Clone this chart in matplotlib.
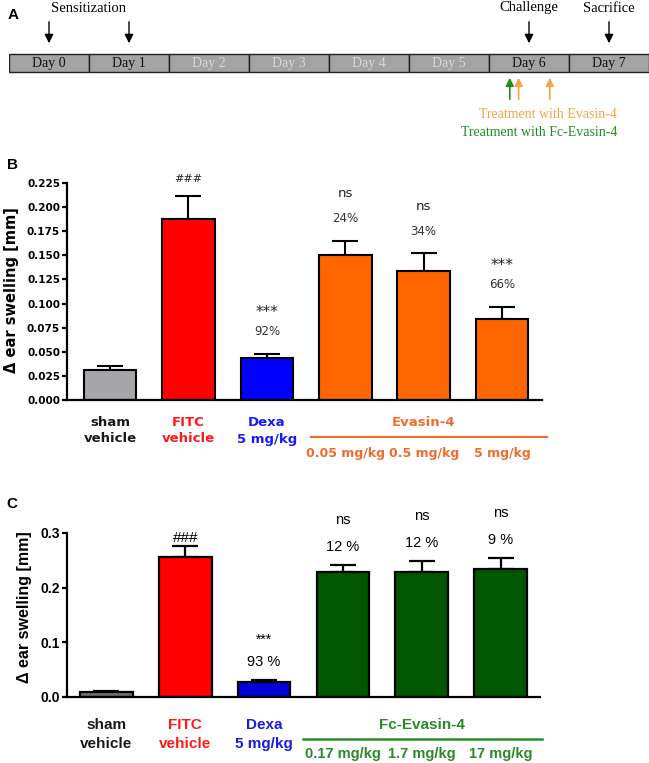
import matplotlib
matplotlib.use("Agg")
import matplotlib.pyplot as plt
from matplotlib.patches import Rectangle

# ---- data ----
days = [0, 1, 2, 3, 4, 5, 6, 7]
active_days = [0, 1, 6, 7]           # darker text in the timeline
sensitization_days = [0, 1]
challenge_day = 6
sacrifice_day = 7
evasin_times = [6.37, 6.76]          # treatment time points (in days)
fc_evasin_times = [6.26]

b_line1 = ['sham', 'FITC', 'Dexa']
b_line2 = ['vehicle', 'vehicle', '5 mg/kg']
b_means = [0.031, 0.188, 0.0436, 0.150, 0.134, 0.084]
b_err = [0.0043, 0.024, 0.0044, 0.015, 0.018, 0.0125]
b_sig = ['', '###', '***', 'ns', 'ns', '***']
b_pct = ['', '', '92%', '24%', '34%', '66%']
b_doses = ['0.05 mg/kg', '0.5 mg/kg', '5 mg/kg']
b_ticks = [0.0, 0.025, 0.05, 0.075, 0.1, 0.125, 0.15, 0.175, 0.2, 0.225]

c_line1 = ['sham', 'FITC', 'Dexa']
c_line2 = ['vehicle', 'vehicle', '5 mg/kg']
c_means = [0.009, 0.256, 0.027, 0.229, 0.229, 0.234]
c_err = [0.002, 0.020, 0.004, 0.0125, 0.020, 0.020]
c_sig = ['', '###', '***', 'ns', 'ns', 'ns']
c_pct = ['', '', '93 %', '12 %', '12 %', '9 %']
c_doses = ['0.17 mg/kg', '1.7 mg/kg', '17 mg/kg']
c_ticks = [0.0, 0.1, 0.2, 0.3]

W, H = 649, 763
fig = plt.figure(figsize=(W / 100, H / 100), dpi=100)


def box(l, t, r, b):
    # pixel box -> figure fraction
    return [l / W, 1 - b / H, (r - l) / W, (b - t) / H]


# ---- panel A: timeline ----
axa = fig.add_axes(box(9, 0, 649, 150))
axa.set_xlim(0, 8)
axa.set_ylim(150, 0)
axa.axis('off')
serif = 'Liberation Serif'
for d in days:
    axa.add_patch(Rectangle((d, 54), 1, 18, facecolor='#a3a3a3',
                            edgecolor='#222222', lw=1))
    col = '#111111' if d in active_days else '#d8d8d8'
    axa.text(d + 0.5, 63.5, f'Day {d}', ha='center', va='center',
             fontsize=10, family=serif, color=col)

down = dict(arrowstyle='-|>', color='black', lw=1, mutation_scale=13)
for d in sensitization_days + [challenge_day, sacrifice_day]:
    axa.annotate('', xy=(d + 0.5, 46), xytext=(d + 0.5, 19), arrowprops=down)
axa.text(sum(sensitization_days) / 2 + 0.5, 8, 'Sensitization', ha='center',
         va='center', fontsize=10.5, family=serif)
axa.text(challenge_day + 0.5, 8, 'Challenge', ha='center', va='center',
         fontsize=10.5, family=serif)
axa.text(sacrifice_day + 0.5, 8, 'Sacrifice', ha='center', va='center',
         fontsize=10.5, family=serif)

for t in fc_evasin_times:
    axa.annotate('', xy=(t, 75), xytext=(t, 102),
                 arrowprops=dict(arrowstyle='-|>', color='#1e8c1e', lw=1.2,
                                 mutation_scale=12))
for t in evasin_times:
    axa.annotate('', xy=(t, 75), xytext=(t, 102),
                 arrowprops=dict(arrowstyle='-|>', color='#f7a340', lw=1.2,
                                 mutation_scale=12))
axa.text(7.6, 114, 'Treatment with Evasin-4', ha='right', va='center',
         fontsize=10, family=serif, color='#f7a340')
axa.text(7.6, 132, 'Treatment with Fc-Evasin-4', ha='right', va='center',
         fontsize=10, family=serif, color='#1e8c1e')


def bar_panel(rect, means, errs, colors, xlim, ylim, ticks, tickfmt, font,
              tick_fs, lw):
    ax = fig.add_axes(box(*rect))
    x = list(range(len(means)))
    ax.bar(x, means, width=0.67, color=colors, edgecolor='black',
           linewidth=lw, zorder=2)
    ax.errorbar(x, means, yerr=[[0] * len(errs), errs], fmt='none',
                ecolor='black', elinewidth=lw, capsize=9.5, capthick=lw,
                zorder=1)
    ax.set_xlim(*xlim)
    ax.set_ylim(*ylim)
    ax.set_yticks(ticks)
    ax.set_yticklabels([tickfmt % v for v in ticks], fontsize=tick_fs,
                       fontweight='bold', family=font)
    ax.set_xticks([])
    for s in ['top', 'right']:
        ax.spines[s].set_visible(False)
    for s in ['left', 'bottom']:
        ax.spines[s].set_linewidth(1.6)
    ax.tick_params(axis='y', direction='out', length=3.5, width=1.6, pad=1.5)
    return ax


def below(ax, txt, x, px, **kw):
    ax.annotate(txt, xy=(x, 0), xycoords=('data', 'axes fraction'),
                xytext=(0, -px * 0.72), textcoords='offset points',
                ha='center', va='center', annotation_clip=False, **kw)


def above(ax, txt, x, top, px, **kw):
    ax.annotate(txt, xy=(x, top), xytext=(0, px * 0.72),
                textcoords='offset points', ha='center', va='center', **kw)


# ---- panel B ----
dv = 'DejaVu Sans'
b_colors = ['#a6a6aa', '#ff0000', '#0000ff', '#ff6600', '#ff6600', '#ff6600']
axb = bar_panel((67, 183, 542, 400), b_means, b_err, b_colors,
                (-0.55, 5.51), (0, 0.225), b_ticks, '%.3f', dv, 7.5, 1.5)
b_lab_cols = ['#1a1a1a', '#ff1a1a', '#1a1aff']
for i in range(3):
    below(axb, b_line1[i], i, 22, fontsize=9.5, fontweight='bold', family=dv,
          color=b_lab_cols[i])
    below(axb, b_line2[i], i, 39, fontsize=9.5, fontweight='bold', family=dv,
          color=b_lab_cols[i])
below(axb, 'Evasin-4', 4, 22, fontsize=9.5, fontweight='bold', family=dv,
      color='#f26b2e')
for i, d in enumerate(b_doses):
    below(axb, d, 3 + i, 54, fontsize=9, fontweight='bold', family=dv,
          color='#f26b2e')
axb.plot([2.56, 5.58], [-37 / 217] * 2, color='#f26b2e', lw=1.5,
         transform=axb.get_xaxis_transform(), clip_on=False)
for i in range(len(b_means)):
    top = b_means[i] + b_err[i]
    if b_sig[i] == '###':
        above(axb, b_sig[i], i, top, 17, fontsize=8, family=dv, color='#222222')
    elif b_sig[i] == 'ns':
        above(axb, b_sig[i], i, top, 47, fontsize=9.5, family=dv,
              color='#222222')
    elif b_sig[i]:
        above(axb, b_sig[i], i, top, 41, fontsize=11, family=dv,
              color='#222222')
    if b_pct[i]:
        above(axb, b_pct[i], i, top, 22, fontsize=8.5, family=dv,
              color='#333333')

# ---- panel C ----
ls = 'Liberation Sans'
c_colors = ['#6f6f6f', '#ff0000', '#0000d8', '#005700', '#005700', '#005700']
axc = bar_panel((67, 533, 540, 697), c_means, c_err, c_colors,
                (-0.5, 5.5), (0, 0.3), c_ticks, '%.1f', ls, 10, 1.6)
c_lab_cols = ['#1a1a1a', '#ff1a1a', '#1a1ae0']
for i in range(3):
    below(axc, c_line1[i], i, 28, fontsize=11, fontweight='bold', family=ls,
          color=c_lab_cols[i])
    below(axc, c_line2[i], i, 47, fontsize=11, fontweight='bold', family=ls,
          color=c_lab_cols[i])
below(axc, 'Fc-Evasin-4', 4, 28, fontsize=11, fontweight='bold', family=ls,
      color='#2a8a2a')
for i, d in enumerate(c_doses):
    below(axc, d, 3 + i, 57, fontsize=10.5, fontweight='bold', family=ls,
          color='#2a8a2a')
axc.plot([2.49, 5.53], [-42 / 164] * 2, color='#2a8a2a', lw=1.8,
         transform=axc.get_xaxis_transform(), clip_on=False)
for i in range(len(c_means)):
    top = c_means[i] + c_err[i]
    if c_sig[i] == '###':
        above(axc, c_sig[i], i, top, 8, fontsize=11, family=ls)
    elif c_sig[i] == '***':
        above(axc, c_sig[i], i, top, 40, fontsize=10, family=ls)
    elif c_sig[i]:
        above(axc, c_sig[i], i, top, 45, fontsize=10.5, family=ls)
    if c_pct[i]:
        above(axc, c_pct[i], i, top, 18, fontsize=10.5, family=ls)

# ---- labels ----
fig.text(12 / W, 1 - 290 / H, '\u0394 ear swelling [mm]', rotation=90,
         ha='center', va='center', fontsize=10.5, fontweight='bold', family=dv)
fig.text(25 / W, 1 - 607 / H, '\u0394 ear swelling [mm]', rotation=90,
         ha='center', va='center', fontsize=11.5, fontweight='bold', family=ls)
for letter, px, py in [('A', 13, 15), ('B', 13, 165), ('C', 12, 504)]:
    fig.text(px / W, 1 - py / H, letter, ha='center', va='center',
             fontsize=11, fontweight='bold', family=ls)

fig.savefig('out.png', dpi=100)
